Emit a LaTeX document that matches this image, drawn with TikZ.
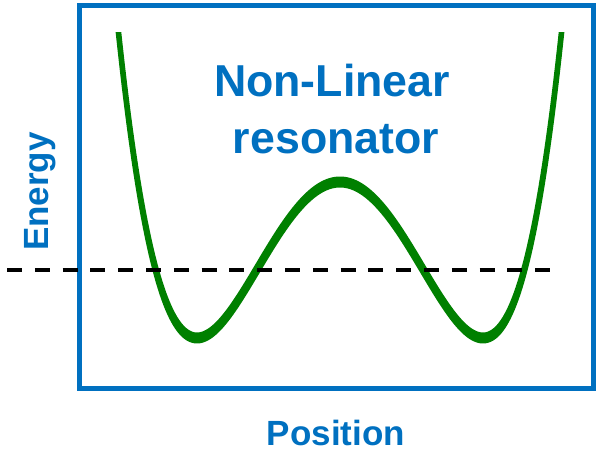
\documentclass[tikz,border=0pt]{standalone}
\usepackage{fontspec}
\setmainfont{Liberation Sans}
\definecolor{tblue}{HTML}{0070C0}
\definecolor{wgreen}{HTML}{008000}
\begin{document}
\begin{tikzpicture}[x=1pt,y=-1pt,
  declare function={f(\x)=338-156*(((\x-340)/143)^2-1)^2;},
  lbl/.style={text=tblue,font=\bfseries,inner sep=0pt,anchor=base},
  frame/.style={draw=tblue,line width=5pt},
  level/.style={draw=black,line width=3.5pt,dash pattern=on 15pt off 12.8pt},
  well/.style={draw=wgreen,fill=wgreen,line width=5pt,line join=round}]
\useasboundingbox (0,0) rectangle (600,454);
\node[frame,minimum width=514pt,minimum height=383.5pt,inner sep=0pt] (box) at (336,197.25) {};
\begin{scope}
\clip (0,33) rectangle (600,454);
\path[well] plot[domain=115:565,samples=240] (\x,{f(\x)-3}) -- plot[domain=565:115,samples=240] (\x,{f(\x)+3}) -- cycle;
\end{scope}
\coordinate (d1) at (7,270);
\coordinate (d2) at (550,270);
\draw[level] (d1) -- (d2);
\node[lbl,font=\bfseries\fontsize{44.7}{54}\selectfont] (t1) at (332,97) {Non-Linear};
\node[lbl,font=\bfseries\fontsize{44.7}{54}\selectfont] (t2) at (336,154) {resonator};
\node[lbl,font=\bfseries\fontsize{35}{42}\selectfont] (px) at (336,445.5) {Position};
\node[lbl,font=\bfseries\fontsize{35}{42}\selectfont,rotate=90] (py) at (48,191.5) {Energy};
\end{tikzpicture}
\end{document}
